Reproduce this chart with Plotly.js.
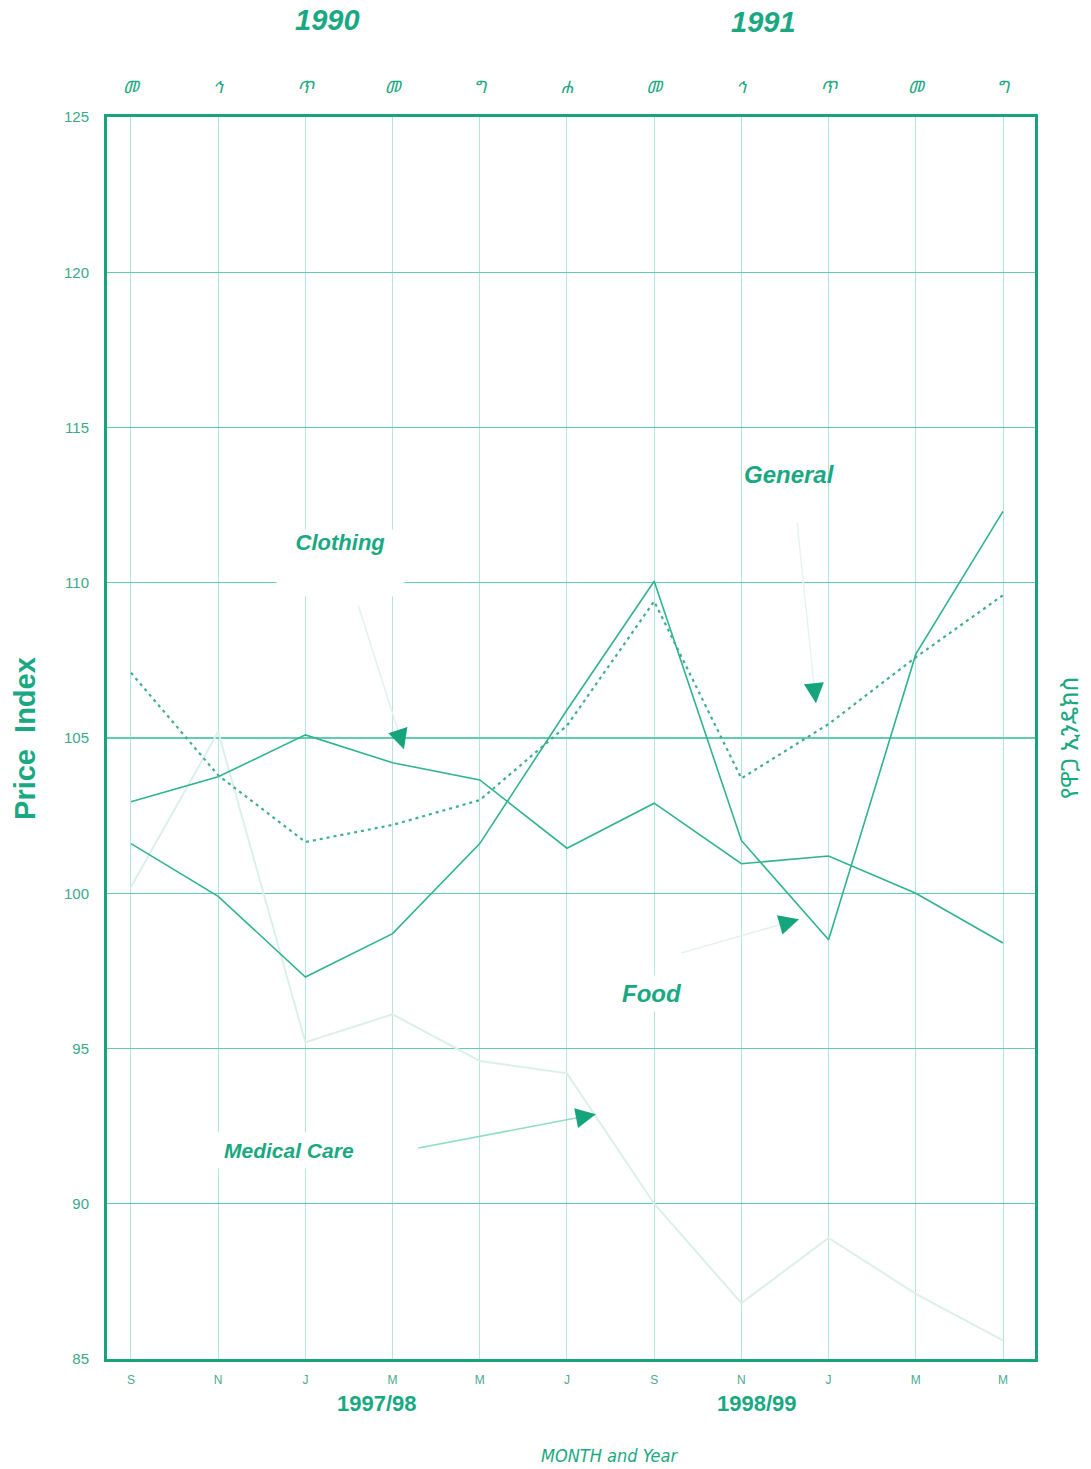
<!DOCTYPE html>
<html>
<head>
<meta charset="utf-8">
<script src="https://cdn.plot.ly/plotly-3.0.1.min.js"></script>
<style>html,body{margin:0;padding:0;background:#fff;}#chart{width:1091px;height:1469px;}</style>
</head>
<body>
<div id="chart"></div>
<script>
// ---- data ----
const months = ["S","N","J","M","M","J","S","N","J","M","M"];
const monthsAmharic = ["መ","ኅ","ጥ","መ","ግ","ሐ","መ","ኅ","ጥ","መ","ግ"];
const general  = [107.1, 103.8, 101.65, 102.2, 103.0, 105.4, 109.4, 103.7, 105.45, 107.6, 109.6];
const food     = [101.6, 99.9, 97.3, 98.7, 101.6, 105.9, 110.05, 101.7, 98.5, 107.7, 112.3];
const clothing = [102.95, 103.75, 105.1, 104.2, 103.65, 101.45, 102.9, 100.95, 101.2, 100.0, 98.4];
const medical  = [100.2, 105.2, 95.2, 96.1, 94.6, 94.2, 90.0, 86.8, 88.9, 87.1, 85.6];
const yTicks = [85, 90, 95, 100, 105, 110, 115, 120, 125];

const xIdx = months.map((_, i) => i);
const TEAL = "#1aa882";
const LINE = "#2fb38e";
const FAINT = "#dcf0e9";

const traces = [
  {x: xIdx, y: medical, mode: "lines", line: {color: FAINT, width: 2}, hoverinfo: "skip"},
  {x: xIdx, y: clothing, mode: "lines", line: {color: LINE, width: 1.6}},
  {x: xIdx, y: food, mode: "lines", line: {color: LINE, width: 1.6}},
  {x: xIdx, y: general, mode: "lines", line: {color: "#3fae90", width: 2.2, dash: "3px,4px"}},
  {x: xIdx, y: general, xaxis: "x2", mode: "lines", line: {width: 0}, opacity: 0, hoverinfo: "skip"}
];

const lab = (txt, x, y, size, extra) => Object.assign({
  text: txt, x: x, y: y, xref: "x", yref: "y", showarrow: false, xanchor: "center", yanchor: "middle",
  font: {family: "Liberation Sans, Arial, sans-serif", size: size, color: TEAL, weight: "bold", style: "italic"}
}, extra || {});

function arrowPair(tipX, tipY, ax, ay, lineColor) {
  const len = Math.sqrt(ax*ax + ay*ay);
  return [
    {x: tipX, y: tipY, xref: "x", yref: "y", ax: ax, ay: ay, showarrow: true, text: "",
     arrowhead: 0, arrowwidth: 1.5, arrowcolor: lineColor},
    {x: tipX, y: tipY, xref: "x", yref: "y", ax: ax/len*10, ay: ay/len*10, showarrow: true, text: "",
     arrowhead: 2, arrowwidth: 1, arrowsize: 4, arrowcolor: "#16a47c"}
  ];
}

const paperText = (txt, x, y, font, extra) => Object.assign({
  text: txt, x: x, y: y, xref: "x", yref: "paper", showarrow: false,
  xanchor: "center", yanchor: "middle", font: font
}, extra || {});

const boldItalic29 = {family: "Liberation Sans, Arial, sans-serif", size: 29, color: TEAL, weight: "bold", style: "italic"};
const narrowBold22 = {family: "Liberation Sans Narrow, Arial Narrow, sans-serif", size: 22, color: TEAL, weight: "bold"};

const annotations = [
  lab("Clothing", 2.40, 110.63, 22, {bgcolor: "#ffffff", width: 127, height: 66, valign: "top", borderpad: 0}),
  lab("General", 7.55, 113.49, 24),
  lab("Food", 5.975, 96.78, 24, {bgcolor: "#ffffff", borderpad: 4}),
  lab("Medical Care", 1.81, 91.72, 21, {bgcolor: "#ffffff", borderpad: 6}),
  ...arrowPair(3.13, 104.64, -46, -145, "#e3f2ed"),
  ...arrowPair(7.855, 106.12, -19, -182, "#e6f4ef"),
  ...arrowPair(7.66, 99.16, -119, 34, "#e3f2ed"),
  ...arrowPair(5.33, 92.88, -179, 34, "#8fdcc5"),
  paperText("1990", 2.25, 1.0781, boldItalic29),
  paperText("1991", 7.25, 1.0765, boldItalic29),
  paperText("1997/98", 2.82, -0.0362, narrowBold22),
  paperText("1998/99", 7.18, -0.0362, narrowBold22),
  paperText("MONTH and Year", 5.49, -0.0773,
    {family: "DejaVu Sans Condensed, DejaVu Sans, sans-serif", size: 18, color: TEAL, style: "italic"}),
  {text: "Price  Index", x: -0.0884, y: 0.5, xref: "paper", yref: "paper", showarrow: false, textangle: -90,
   xanchor: "center", yanchor: "middle",
   font: {family: "Liberation Sans, Arial, sans-serif", size: 29, color: TEAL, weight: "bold"}},
  {text: "የዋጋ ኢንዴክስ", x: 1.0356, y: 0.5, xref: "paper", yref: "paper", showarrow: false, textangle: -90,
   xanchor: "center", yanchor: "middle",
   font: {family: "Noto Sans Ethiopic, Abyssinica SIL, Noto Sans, sans-serif", size: 24, color: TEAL}}
];

const xRange = [-0.275, 10.367];
const layout = {
  width: 1091, height: 1469,
  margin: {l: 107, r: 56, t: 117, b: 110},
  paper_bgcolor: "#ffffff", plot_bgcolor: "#ffffff",
  showlegend: false,
  xaxis: {
    range: xRange, tickvals: xIdx, ticktext: months, ticks: "",
    showgrid: true, gridcolor: "#b3e6d8", gridwidth: 1,
    zeroline: false, showline: true, mirror: true, linecolor: "#17a47d", linewidth: 3,
    tickfont: {family: "Liberation Sans Narrow, Arial Narrow, sans-serif", size: 12, color: "#4aa98e"},
    ticklabelstandoff: 8
  },
  xaxis2: {
    range: xRange, overlaying: "x", side: "top", tickvals: xIdx, ticktext: monthsAmharic, ticks: "",
    showgrid: false, zeroline: false, showline: false,
    tickfont: {family: "Noto Sans Ethiopic, Abyssinica SIL, Noto Sans, sans-serif", size: 17, color: TEAL, style: "italic"},
    ticklabelstandoff: 20
  },
  yaxis: {
    range: [85, 125], tickvals: yTicks, ticks: "",
    showgrid: true, gridcolor: "#5fcdae", gridwidth: 1.4,
    zeroline: false, showline: true, mirror: true, linecolor: "#17a47d", linewidth: 3,
    tickfont: {family: "Liberation Sans Narrow, Arial Narrow, sans-serif", size: 15, color: "#3aa88a"},
    ticklabelstandoff: 12
  },
  annotations: annotations
};

Plotly.newPlot("chart", traces, layout, {displayModeBar: false, staticPlot: true});
</script>
</body>
</html>
